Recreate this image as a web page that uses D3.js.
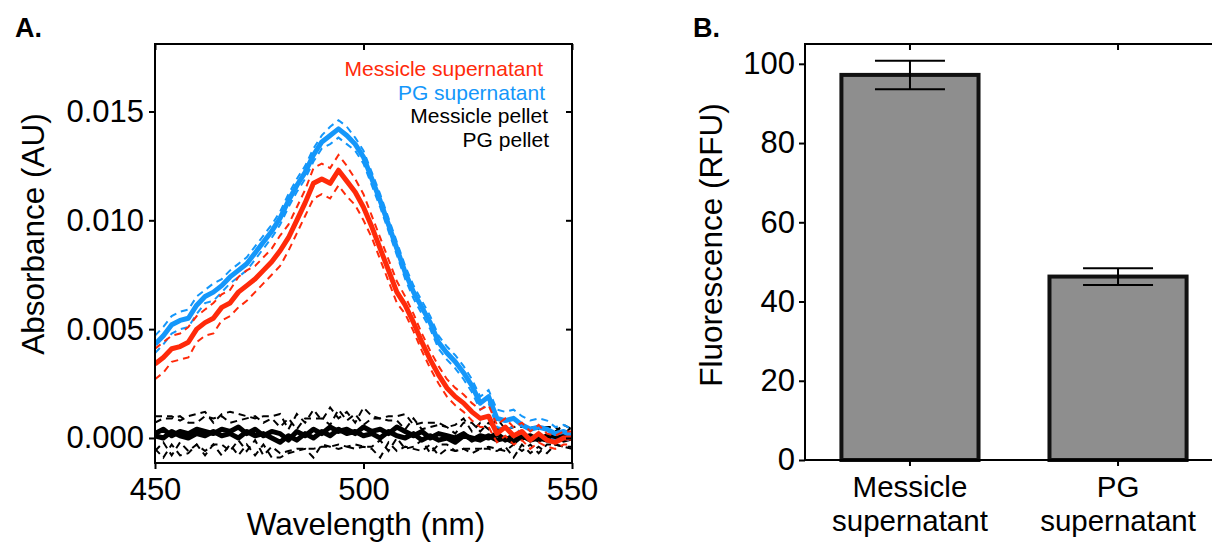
<!DOCTYPE html>
<html><head><meta charset="utf-8">
<script src="https://cdn.jsdelivr.net/npm/d3@7"></script>
<style>
html,body{margin:0;padding:0;background:#fff;}
svg{display:block;font-family:"Liberation Sans",Arial,Helvetica,sans-serif;}
</style></head>
<body><svg id="c" width="1212" height="542"></svg>
<script>
// ---------- Panel A data ----------
const wavelengths = d3.range(450, 551, 2);
const messicleSupMean = [.0034,.0037,.0041,.0042,.0044,.0050,.0053,.0055,.0060,.0062,.0067,.0070,.0073,.0077,.0081,.0086,.0092,.0100,.0108,.0117,.0119,.0117,.0123,.0118,.0113,.0106,.0097,.0087,.0077,.0067,.0061,.0053,.0044,.0036,.0029,.0023,.0019,.0016,.0012,.0009,.0010,.0002,.0005,.0001,.0003,-.0001,.0002,-.0001,-.0002,.0000,.0000];
const messicleSupSD = [.0007,.0007,.0006,.0006,.0007,.0006,.0006,.0007,.0006,.0006,.0007,.0007,.0006,.0006,.0006,.0007,.0006,.0006,.0006,.0007,.0007,.0007,.0007,.0007,.0006,.0006,.0005,.0005,.0005,.0005,.0004,.0004,.0004,.0004,.0004,.0004,.0004,.0004,.0004,.0004,.0005,.0004,.0004,.0004,.0004,.0004,.0004,.0003,.0003,.0003,.0003];
const pgSupMean = [.0043,.0047,.0052,.0054,.0055,.0061,.0065,.0067,.0070,.0074,.0077,.0080,.0085,.0090,.0095,.0101,.0109,.0116,.0122,.0130,.0136,.0139,.0142,.0139,.0135,.0129,.0119,.0109,.0098,.0087,.0076,.0067,.0060,.0053,.0044,.0039,.0035,.0030,.0024,.0016,.0019,.0009,.0008,.0009,.0006,.0004,.0005,.0004,.0002,.0003,.0001];
const pgSupSD = [.0004,.0004,.0004,.0004,.0004,.0004,.0003,.0004,.0003,.0003,.0003,.0003,.0003,.0003,.0003,.0003,.0003,.0003,.0003,.0003,.0003,.0004,.0004,.0004,.0003,.0003,.0003,.0003,.0003,.0003,.0003,.0003,.0003,.0003,.0003,.0003,.0003,.0003,.0003,.0003,.0003,.0004,.0004,.0004,.0004,.0004,.0004,.0004,.0003,.0003,.0003];
const messiclePelletMean = [.0002,.0004,.0001,.0003,.0002,.0004,.0003,.0002,.0004,.0003,.0005,.0002,.0004,.0001,.0003,.0002,-.0001,.0003,.0001,.0004,.0002,.0005,.0003,.0004,.0002,.0005,.0003,.0004,.0002,.0005,.0003,.0001,.0003,.0000,.0002,.0001,.0000,.0002,-.0001,.0001,.0000,.0002,-.0001,.0001,.0000,.0001,-.0001,.0001,.0000,.0001,.0000];
const messiclePelletSD = [.0008,.0006,.0009,.0005,.0008,.0007,.0009,.0005,.0007,.0009,.0006,.0008,.0005,.0009,.0007,.0009,.0005,.0008,.0006,.0009,.0006,.0009,.0006,.0008,.0005,.0009,.0007,.0005,.0008,.0005,.0008,.0005,.0004,.0007,.0005,.0004,.0006,.0007,.0004,.0006,.0004,.0007,.0005,.0004,.0006,.0004,.0006,.0004,.0003,.0005,.0004];
const pgPelletMean = [.0001,.0000,.0003,.0001,.0000,.0002,.0001,.0003,.0001,.0002,.0000,.0003,.0001,.0002,.0000,-.0002,.0001,-.0001,.0002,.0000,.0003,.0001,.0004,.0002,.0003,.0001,.0002,.0000,.0003,.0001,.0000,.0002,-.0001,.0001,-.0001,.0000,-.0002,.0001,.0000,-.0001,.0001,-.0001,.0000,-.0002,.0001,-.0001,.0000,-.0001,.0001,-.0001,.0000];
const pgPelletSD = [.0006,.0009,.0006,.0009,.0007,.0005,.0009,.0006,.0009,.0005,.0008,.0006,.0009,.0005,.0009,.0007,.0008,.0005,.0007,.0009,.0006,.0005,.0009,.0006,.0008,.0005,.0007,.0009,.0005,.0007,.0004,.0007,.0005,.0004,.0007,.0005,.0004,.0006,.0007,.0004,.0006,.0005,.0004,.0007,.0004,.0006,.0004,.0006,.0004,.0003,.0005];
const seriesNames = ["Messicle supernatant","PG supernatant","Messicle pellet","PG pellet"];
const seriesColors = ["#ff2a0a","#1497fa","#000000","#000000"];
const yTicksA = [0,0.005,0.010,0.015];
const xTicksA = [450,500,550];

// ---------- Panel B data ----------
const barCategories = ["Messicle supernatant","PG supernatant"];
const barValues = [97.2, 46.3];
const barErrors = [3.6, 2.1];
const yTicksB = [0,20,40,60,80,100];

const svg = d3.select("#c");

function txt(parent, x, y, str, size, anchor, opts={}) {
  return parent.append("text").attr("x",x).attr("y",y).attr("text-anchor",anchor)
    .attr("font-size",size).attr("font-weight",opts.bold?"bold":"normal")
    .attr("fill",opts.fill||"#000").text(str);
}
function styleAxis(g, size) {
  g.select(".domain").remove();
  g.selectAll(".tick line").attr("stroke","#000").attr("stroke-width",2);
  g.selectAll(".tick text").attr("font-size",size).attr("fill","#000")
    .attr("font-family","Liberation Sans, Arial, sans-serif");
}

// ===== Panel A =====
const A = {l:155, r:572, t:44, b:463};
const xA = d3.scaleLinear([450,550],[A.l,A.r]);
const yA = d3.scaleLinear([-0.00115,0.0181],[A.b,A.t]);

svg.append("defs").append("clipPath").attr("id","clipA")
  .append("rect").attr("x",A.l).attr("y",A.t).attr("width",A.r-A.l).attr("height",A.b-A.t);

const plotA = svg.append("g").attr("clip-path","url(#clipA)");
const series = [
  {mean:messiclePelletMean, sd:messiclePelletSD, color:seriesColors[2]},
  {mean:pgPelletMean, sd:pgPelletSD, color:seriesColors[3]},
  {mean:pgSupMean, sd:pgSupSD, color:seriesColors[1]},
  {mean:messicleSupMean, sd:messicleSupSD, color:seriesColors[0]},
];
const line = d3.line().x(d=>xA(d[0])).y(d=>yA(d[1]));
series.forEach(s=>{
  const up = wavelengths.map((w,i)=>[w, s.mean[i]+s.sd[i]]);
  const lo = wavelengths.map((w,i)=>[w, s.mean[i]-s.sd[i]]);
  const mid = wavelengths.map((w,i)=>[w, s.mean[i]]);
  [up,lo].forEach(d=>plotA.append("path").attr("d",line(d)).attr("fill","none")
    .attr("stroke",s.color).attr("stroke-width",2).attr("stroke-dasharray","7,5"));
  plotA.append("path").attr("d",line(mid)).attr("fill","none")
    .attr("stroke",s.color).attr("stroke-width",5).attr("stroke-linejoin","round");
});

svg.append("rect").attr("x",A.l).attr("y",A.t).attr("width",A.r-A.l).attr("height",A.b-A.t)
  .attr("fill","none").attr("stroke","#000").attr("stroke-width",2);

styleAxis(svg.append("g").attr("transform",`translate(${A.l},0)`)
  .call(d3.axisLeft(yA).tickValues(yTicksA).tickFormat(d3.format(".3f")).tickSize(6).tickPadding(5)), 31);
styleAxis(svg.append("g").attr("transform",`translate(${A.r},0)`)
  .call(d3.axisLeft(yA).tickValues(yTicksA).tickFormat("").tickSize(6)), 31);
styleAxis(svg.append("g").attr("transform",`translate(0,${A.b})`)
  .call(d3.axisBottom(xA).tickValues(xTicksA).tickFormat(d3.format("d")).tickSize(6).tickPadding(9)), 31);
styleAxis(svg.append("g").attr("transform",`translate(0,${A.t})`)
  .call(d3.axisBottom(xA).tickValues(xTicksA).tickFormat("").tickSize(6)), 31);

// axis titles A
svg.append("text").attr("transform","translate(44,234) rotate(-90)").attr("text-anchor","middle")
  .attr("font-size",31.5).text("Absorbance (AU)");
txt(svg, 366, 535, "Wavelength (nm)", 31.5, "middle");

// legend
const legendBaselines = [76, 99.5, 123, 146.5];
const legendRight = [543, 545, 548, 549];
seriesNames.forEach((n,i)=> txt(svg, legendRight[i], legendBaselines[i], n, 21, "end", {fill:seriesColors[i]}));

// panel label
txt(svg, 15, 37, "A.", 27, "start", {bold:true});

// ===== Panel B =====
const B = {l:805, r:1223, t:44, b:460};
const xB = d3.scaleBand(barCategories,[B.l,B.r]).paddingInner(0.341).paddingOuter(0.175);
const yB = d3.scaleLinear([0,105],[B.b,B.t]);

svg.append("g").selectAll("rect").data(barCategories).join("rect")
  .attr("x",d=>xB(d)).attr("width",xB.bandwidth())
  .attr("y",(d,i)=>yB(barValues[i])).attr("height",(d,i)=>yB(0)-yB(barValues[i]))
  .attr("fill","#8e8e8e").attr("stroke","#111").attr("stroke-width",4);

const eb = svg.append("g").attr("stroke","#000").attr("stroke-width",2);
barCategories.forEach((c,i)=>{
  const cx = xB(c)+xB.bandwidth()/2;
  const hi = yB(barValues[i]+barErrors[i]), lo = yB(barValues[i]-barErrors[i]);
  eb.append("line").attr("x1",cx).attr("x2",cx).attr("y1",hi).attr("y2",lo);
  eb.append("line").attr("x1",cx-35).attr("x2",cx+35).attr("y1",hi).attr("y2",hi);
  eb.append("line").attr("x1",cx-35).attr("x2",cx+35).attr("y1",lo).attr("y2",lo);
});

svg.append("rect").attr("x",B.l).attr("y",B.t).attr("width",B.r-B.l).attr("height",B.b-B.t)
  .attr("fill","none").attr("stroke","#000").attr("stroke-width",2);

styleAxis(svg.append("g").attr("transform",`translate(${B.l},0)`)
  .call(d3.axisLeft(yB).tickValues(yTicksB).tickFormat(d3.format("d")).tickSize(6).tickPadding(4)), 31);
styleAxis(svg.append("g").attr("transform",`translate(0,${B.b})`)
  .call(d3.axisBottom(xB).tickSize(6).tickFormat("")), 31);
styleAxis(svg.append("g").attr("transform",`translate(0,${B.t})`)
  .call(d3.axisBottom(xB).tickSize(6).tickFormat("")), 31);
barCategories.forEach(c=>{
  const cx = xB(c)+xB.bandwidth()/2;
  const parts = c.split(" ");
  txt(svg, cx, 497, parts[0], 29.5, "middle");
  txt(svg, cx, 530.5, parts[1], 29.5, "middle");
});

svg.append("text").attr("transform","translate(722,245) rotate(-90)").attr("text-anchor","middle")
  .attr("font-size",31.5).text("Fluorescence (RFU)");
txt(svg, 693, 37, "B.", 27, "start", {bold:true});
</script></body></html>
